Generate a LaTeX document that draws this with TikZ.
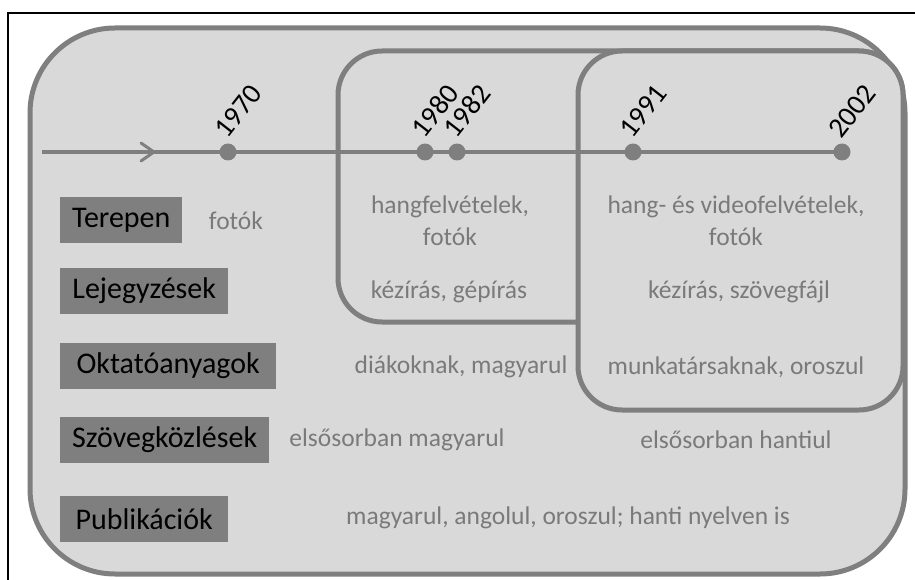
\documentclass[tikz,border=0pt]{standalone}
\usepackage{fontspec}
\setmainfont{Carlito}
\definecolor{bgfill}{HTML}{D9D9D9}
\definecolor{midgray}{HTML}{7F7F7F}
\definecolor{txtgray}{HTML}{7A7A7A}
\tikzset{
  region/.style={draw=midgray, line width=5pt, fill=bgfill},
  labbox/.style={fill=midgray, text=black, minimum height=46pt, anchor=west,
    inner sep=0pt, font=\fontsize{30}{34}\selectfont},
  desc/.style={text=txtgray, align=center, inner sep=0pt,
    font=\fontsize{25.5}{32}\selectfont},
  dot/.style={circle, fill=midgray, minimum size=17pt, inner sep=0pt},
  year/.style={rotate=52, anchor=south west, inner sep=0pt, text=black,
    font=\fontsize{28.5}{30}\selectfont},
  tline/.style={draw=midgray, line width=4pt},
}
\begin{document}
\begin{tikzpicture}[x=1pt, y=-1pt]
\useasboundingbox (0,0) rectangle (915,580);
\fill[white] (0,0) rectangle (915,580);
% frame
\coordinate (fbl) at (8,580);
\coordinate (ftl) at (8,13);
\coordinate (ftr) at (915,13);
\draw[black, line width=2.2pt] (fbl) -- (ftl) -- (ftr);
% regions
\draw[region, rounded corners=85pt] (30,28) rectangle (905,574);
\draw[region, rounded corners=44pt] (338,51) rectangle (903,322);
\draw[region, rounded corners=44pt] (578,51) rectangle (903,410);
% timeline
\coordinate (tstart) at (42,152);
\coordinate (atip) at (154,152);
\node[dot] (d1970) at (228,152) {};
\node[dot] (d1980) at (425,152) {};
\node[dot] (d1982) at (457,152) {};
\node[dot] (d1991) at (633,152) {};
\node[dot] (d2002) at (842,152) {};
\draw[tline] (tstart) -- (d2002.center);
\draw[draw=midgray, line width=3pt, line cap=round, line join=miter]
  ([shift={(-13,-9)}]atip) -- (atip) -- ([shift={(-13,9)}]atip);
\node[year] (y1970) at ([shift={(0,-12)}]d1970.center) {1970};
\node[year] (y1980) at ([shift={(0,-12)}]d1980.center) {1980};
\node[year] (y1982) at ([shift={(0,-12)}]d1982.center) {1982};
\node[year] (y1991) at ([shift={(0,-12)}]d1991.center) {1991};
\node[year] (y2002) at ([shift={(0,-12)}]d2002.center) {2002};
% row labels
\node[labbox, minimum width=122pt] (lterepen) at (60,220) {Terepen};
\node[labbox, minimum width=168pt] (llejegy) at (60,291) {Lejegyzések};
\node[labbox, minimum width=216pt] (loktat) at (60,365.5) {Oktatóanyagok};
\node[labbox, minimum width=209pt] (lszoveg) at (60,440) {Szövegközlések};
\node[labbox, minimum width=168pt] (lpubl) at (60,519) {Publikációk};
% descriptions
\node[desc] (t1a) at (236,221) {fotók};
\node[desc] (t1b) at (450,221) {hangfelvételek,\\fotók};
\node[desc] (t1c) at (736,221) {hang- és videofelvételek,\\fotók};
\node[desc] (t2b) at (449,292) {kézírás, gépírás};
\node[desc] (t2c) at (739,292) {kézírás, szövegfájl};
\node[desc] (t3b) at (461,367) {diákoknak, magyarul};
\node[desc] (t3c) at (736,367) {munkatársaknak, oroszul};
\node[desc] (t4b) at (397,440) {elsősorban magyarul};
\node[desc] (t4c) at (736,440) {elsősorban hantiul};
\node[desc] (t5) at (568,518) {magyarul, angolul, oroszul; hanti nyelven is};
\end{tikzpicture}
\end{document}
